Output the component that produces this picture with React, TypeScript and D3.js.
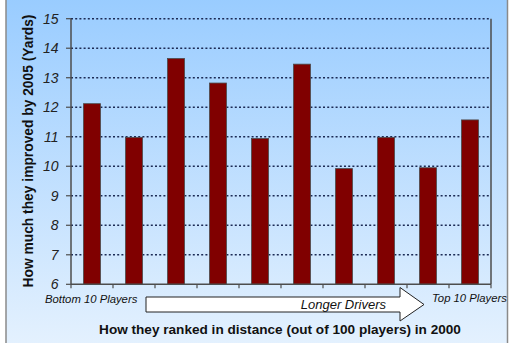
import React from "react";
import * as d3 from "d3";

const categories = ["1", "2", "3", "4", "5", "6", "7", "8", "9", "10"];
const improvement = [12.12, 10.98, 13.65, 12.82, 10.94, 13.46, 9.92, 10.98, 9.95, 11.57];
const yTicks = [6, 7, 8, 9, 10, 11, 12, 13, 14, 15];
const yTitle = "How much they improved by 2005 (Yards)";
const xTitle = "How they ranked in distance (out of 100 players) in 2000";
const leftLabel = "Bottom 10 Players";
const rightLabel = "Top 10 Players";
const arrowLabel = "Longer Drivers";

const W = 515;
const H = 343;
const plot = { left: 71, right: 491, top: 18.7, bottom: 284.3 };
const FONT = "'Liberation Sans', Arial, sans-serif";

export default function App() {
  const x = d3
    .scaleBand<string>()
    .domain(categories)
    .range([plot.left, plot.right])
    .paddingInner(0.595)
    .paddingOuter(0.2975);
  const y = d3.scaleLinear().domain([6, 15]).range([plot.bottom, plot.top]);
  const step = x.step();
  const boundaries = d3.range(categories.length + 1).map((i) => plot.left + i * step);

  // arrow geometry
  const ax0 = 146, ax1 = 400, atip = 424;
  const ay0 = 297, ay1 = 312, ahy0 = 287.5, ahy1 = 321, amid = 304.5;
  const arrowPath = `M${ax0},${ay0} L${ax1},${ay0} L${ax1},${ahy0} L${atip},${amid} L${ax1},${ahy1} L${ax1},${ay1} L${ax0},${ay1} Z`;

  return (
    <svg
      width={W}
      height={H}
      style={{ position: "absolute", left: 0, top: 0, display: "block" }}
      fontFamily={FONT}
    >
      <defs>
        <linearGradient id="bg" x1="0" y1="0" x2="0" y2="1">
          <stop offset="0" stopColor="#99ccff" />
          <stop offset="1" stopColor="#e4f1fe" />
        </linearGradient>
      </defs>
      <rect x={0} y={0} width={W} height={H} fill="#ffffff" />
      <rect x={6} y={-2} width={501.5} height={H + 4} fill="url(#bg)" stroke="#8a8a8a" strokeWidth={1.5} />

      {/* gridlines */}
      {yTicks.slice(1).map((t) => (
        <line
          key={"g" + t}
          x1={plot.left}
          x2={plot.right}
          y1={y(t)}
          y2={y(t)}
          stroke="#1c2b55"
          strokeWidth={1.6}
          strokeDasharray="2 2.2"
        />
      ))}

      {/* bars */}
      {categories.map((c, i) => (
        <rect
          key={c}
          x={x(c)}
          y={y(improvement[i])}
          width={x.bandwidth()}
          height={y(6) - y(improvement[i])}
          fill="#800000"
          stroke="#4a4a4a"
          strokeWidth={0.8}
        />
      ))}

      {/* axes */}
      <line x1={plot.left} x2={plot.left} y1={plot.top} y2={plot.bottom} stroke="#4d4d4d" strokeWidth={1.5} />
      <line x1={plot.right} x2={plot.right} y1={plot.top} y2={plot.bottom} stroke="#4d4d4d" strokeWidth={1.5} />
      <line x1={plot.left} x2={plot.right} y1={plot.bottom} y2={plot.bottom} stroke="#4d4d4d" strokeWidth={1.5} />
      {yTicks.map((t) => (
        <g key={"t" + t}>
          <line x1={plot.left - 5} x2={plot.left} y1={y(t)} y2={y(t)} stroke="#4d4d4d" strokeWidth={1.2} />
          <text
            x={58.5}
            y={y(t)}
            dy="0.36em"
            textAnchor="end"
            fontSize={14}
            fontStyle="italic"
            fill="#222"
          >
            {t}
          </text>
        </g>
      ))}
      {boundaries.map((b, i) => (
        <line key={"xb" + i} x1={b} x2={b} y1={plot.bottom} y2={plot.bottom + 4} stroke="#4d4d4d" strokeWidth={1.2} />
      ))}

      {/* arrow */}
      <path d={arrowPath} fill="#ffffff" stroke="#222" strokeWidth={1} />
      <text x={386} y={308.5} textAnchor="end" fontSize={13} fontStyle="italic" fill="#111">
        {arrowLabel}
      </text>
      <text x={45} y={303} fontSize={11.3} fontStyle="italic" fill="#111">
        {leftLabel}
      </text>
      <text x={432} y={302} fontSize={11.3} fontStyle="italic" fill="#111">
        {rightLabel}
      </text>

      {/* titles */}
      <text x={280} y={333.5} textAnchor="middle" fontSize={13.6} fontWeight="bold" fill="#111">
        {xTitle}
      </text>
      <text
        transform={`translate(33,151) rotate(-90)`}
        textAnchor="middle"
        fontSize={13.8}
        fontWeight="bold"
        fill="#111"
      >
        {yTitle}
      </text>
    </svg>
  );
}
